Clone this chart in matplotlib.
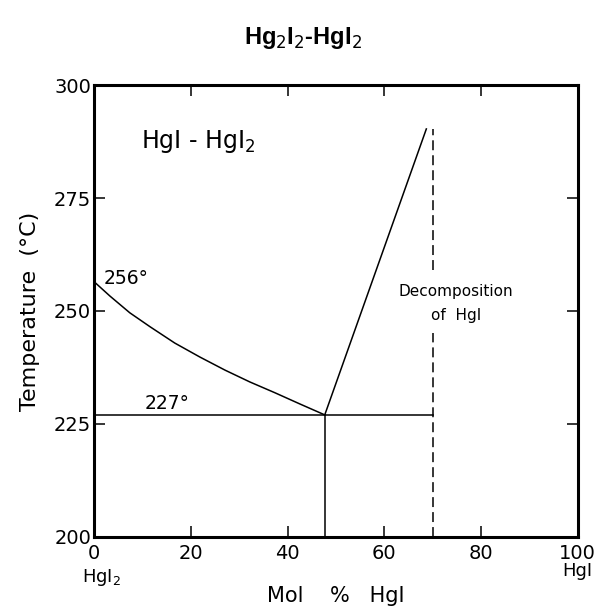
import numpy as np
import matplotlib.pyplot as plt

# liquidus on the HgI2 side (mol % HgI, deg C)
liq_x = [0, 3.3, 7.4, 11.6, 16.7, 21.9, 27.1, 32.2, 37.4, 42.6, 47.7]
liq_t = [256.5, 253.3, 249.6, 246.5, 242.9, 239.8, 236.9, 234.3, 231.9, 229.4, 227]
# rising line on the HgI side
rise_x = [47.7, 68.7]
rise_t = [227, 290.3]
eut_t = 227
eut_x = 47.7
decomp_x = 70
decomp_top = 290.3
decomp_gap = (245.2, 259.0)   # dashed line is broken behind the label

plt.rcParams['font.family'] = ['DejaVu Sans']

fig = plt.figure(figsize=(5.95, 6.08), dpi=100)
ax = fig.add_axes([0.158, 0.117, 0.813, 0.743])

ax.plot(liq_x, liq_t, color='black', lw=1.1)
ax.plot(rise_x, rise_t, color='black', lw=1.1)
ax.plot([0, decomp_x], [eut_t, eut_t], color='black', lw=1.1)
ax.plot([eut_x, eut_x], [200, eut_t], color='black', lw=1.1)
ax.plot([decomp_x, decomp_x], [200, decomp_gap[0]], color='black', lw=1.1,
        ls=(0, (6.5, 3.3)))
ax.plot([decomp_x, decomp_x], [decomp_gap[1], decomp_top], color='black', lw=1.1,
        ls=(0, (6.5, 3.3)))

ax.set_xlim(0, 100)
ax.set_ylim(200, 300)
ax.set_xticks([0, 20, 40, 60, 80, 100])
ax.set_yticks([200, 225, 250, 275, 300])
ax.tick_params(direction='in', length=8, width=1.1, labelsize=14,
               top=True, right=True)
ax.tick_params(axis='x', pad=5)
ax.tick_params(axis='y', pad=2)
for s in ax.spines.values():
    s.set_linewidth(2.2)

ax.text(9.8, 287.5, 'HgI - HgI$_2$', fontsize=17, va='center')
ax.text(1.9, 257.3, '256°', fontsize=13.5, va='center')
ax.text(15.1, 229.6, '227°', fontsize=13.5, va='center', ha='center')
ax.text(74.8, 254.4, 'Decomposition', fontsize=11, va='center', ha='center')
ax.text(74.8, 249.0, 'of  HgI', fontsize=11, va='center', ha='center')

ax.text(1.5, 191.0, 'HgI$_2$', fontsize=13, ha='center', va='center')
ax.text(100, 192.5, 'HgI', fontsize=13, ha='center', va='center')

# x label placed by hand so it sits just above the bottom edge
ax.text(50, 186.8, 'Mol    %   HgI', fontsize=15, ha='center', va='center')
ax.set_ylabel('Temperature  (°C)', fontsize=16, labelpad=10)

fig.text(0.51, 0.938, 'Hg$_2$I$_2$-HgI$_2$', fontsize=17, fontweight='bold',
         ha='center', va='center', family='Liberation Sans')

plt.savefig('out.png', dpi=100)
